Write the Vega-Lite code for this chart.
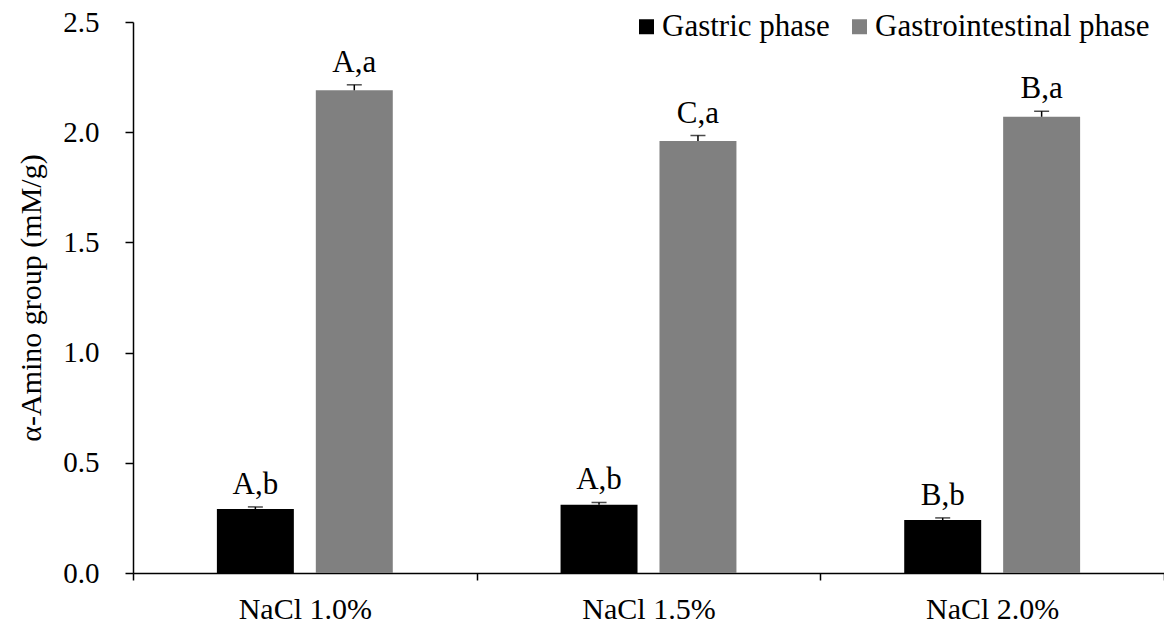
{
  "$schema": "https://vega.github.io/schema/vega-lite/v6.json",
  "width": 1031,
  "height": 551,
  "autosize": {"type": "none"},
  "padding": {"left": 133, "top": 22, "right": 0, "bottom": 57},
  "background": "white",
  "config": {
    "view": {"stroke": null},
    "font": "Liberation Serif"
  },
  "data": {
    "values": [
      {"nacl": "NaCl 1.0%", "phase": "Gastric phase", "value": 0.29, "hi": 0.30, "label": "A,b"},
      {"nacl": "NaCl 1.0%", "phase": "Gastrointestinal phase", "value": 2.19, "hi": 2.215, "label": "A,a"},
      {"nacl": "NaCl 1.5%", "phase": "Gastric phase", "value": 0.31, "hi": 0.32, "label": "A,b"},
      {"nacl": "NaCl 1.5%", "phase": "Gastrointestinal phase", "value": 1.96, "hi": 1.985, "label": "C,a"},
      {"nacl": "NaCl 2.0%", "phase": "Gastric phase", "value": 0.24, "hi": 0.25, "label": "B,b"},
      {"nacl": "NaCl 2.0%", "phase": "Gastrointestinal phase", "value": 2.07, "hi": 2.095, "label": "B,a"}
    ]
  },
  "encoding": {
    "x": {"field": "nacl", "type": "nominal", "title": null, "sort": null,
      "scale": {"paddingInner": 0, "paddingOuter": 0},
      "axis": {"labelAngle": 0, "tickBand": "extent", "tickSize": 7, "labelPadding": 14,
        "labelFont": "Liberation Serif", "labelFontSize": 30, "labelColor": "black", "labelBaseline": "top",
        "domainColor": "black", "tickColor": "black", "domainWidth": 1.5, "tickWidth": 1.5, "grid": false}},
    "xOffset": {"field": "phase", "type": "nominal", "sort": null, "scale": {"paddingInner": 0.222, "paddingOuter": 0.848}}
  },
  "layer": [
    {
      "mark": {"type": "bar"},
      "encoding": {
        "y": {"field": "value", "type": "quantitative", "title": "α-Amino group (mM/g)",
          "scale": {"domain": [0, 2.5], "nice": false},
          "axis": {"values": [0, 0.5, 1, 1.5, 2, 2.5], "format": ".1f", "tickSize": 8, "labelPadding": 26, "titlePadding": 16,
            "labelFont": "Liberation Serif", "labelFontSize": 29, "labelColor": "black",
            "titleFont": "Liberation Serif", "titleFontSize": 30, "titleFontWeight": "normal", "titleColor": "black",
            "domainColor": "black", "tickColor": "black", "domainWidth": 1.5, "tickWidth": 1.5, "grid": false}},
        "color": {"field": "phase", "type": "nominal", "sort": null,
          "scale": {"range": ["#000000", "#808080"]},
          "legend": {"title": null, "orient": "none", "legendX": 498, "legendY": -11, "padding": 0, "direction": "horizontal", "symbolType": "square", "symbolSize": 225, "symbolStrokeWidth": 0, "labelFont": "Liberation Serif", "labelFontSize": 31, "labelColor": "black", "labelLimit": 500, "labelOffset": 0, "columnPadding": 14}}
      }
    },
    {
      "mark": {"type": "rule", "color": "black", "strokeWidth": 1.5},
      "encoding": {"y": {"field": "value", "type": "quantitative"}, "y2": {"field": "hi"}}
    },
    {
      "mark": {"type": "tick", "color": "black", "size": 15, "thickness": 1.5},
      "encoding": {"y": {"field": "hi", "type": "quantitative"}}
    },
    {
      "mark": {"type": "text", "baseline": "alphabetic", "dy": -13, "fontSize": 31, "font": "Liberation Serif", "color": "black"},
      "encoding": {"y": {"field": "hi", "type": "quantitative"}, "text": {"field": "label"}}
    }
  ]
}
